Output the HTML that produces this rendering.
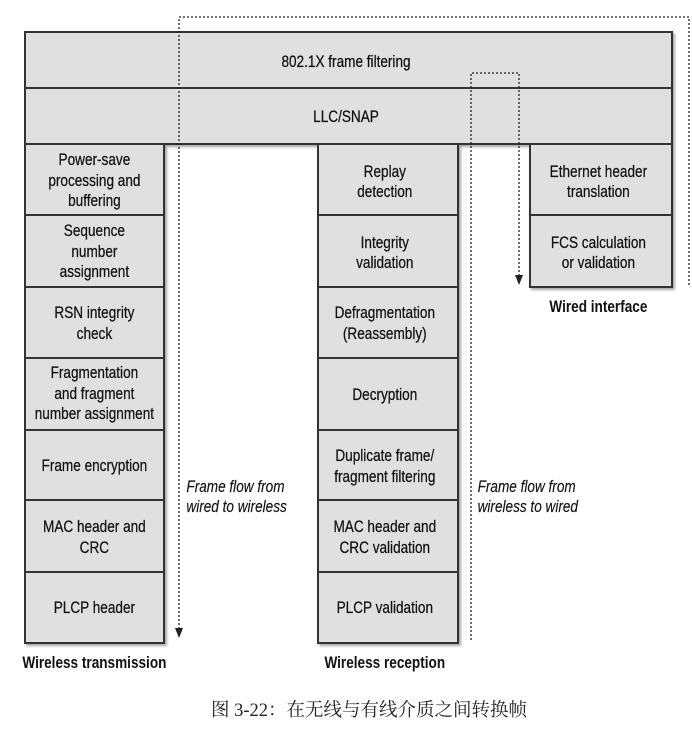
<!DOCTYPE html>
<html><head><meta charset="utf-8"><style>
html,body{margin:0;padding:0;background:#fff;}
svg{display:block;}
.t{font-family:"Liberation Sans",sans-serif;font-size:17px;fill:#111;stroke:#111;stroke-width:0.25;text-anchor:middle;}
.b{font-weight:bold;stroke-width:0;}
.i{font-style:italic;text-anchor:start;stroke-width:0.15;}
.c{font-family:"Liberation Serif","Noto Serif CJK SC",serif;font-size:18.5px;fill:#222;text-anchor:middle;}
</style></head><body>
<svg width="692" height="731" viewBox="0 0 692 731" xmlns="http://www.w3.org/2000/svg">
<defs><filter id="sh" x="-5%" y="-5%" width="115%" height="115%"><feDropShadow dx="2" dy="2" stdDeviation="1.2" flood-color="#000" flood-opacity="0.35"/></filter></defs>
<g fill="#e0e0e0" stroke="#333" stroke-width="2" filter="url(#sh)">
<path d="M25 32 H672 V144 H458 V643 H318 V144 H164 V643 H25 Z"/>
<rect x="530" y="144" width="142" height="143"/>
</g>
<g stroke="#333" stroke-width="2" fill="none">
<line x1="25" y1="88" x2="672" y2="88"/>
<line x1="25" y1="144" x2="164" y2="144"/><line x1="318" y1="144" x2="458" y2="144"/>
<path d="M25 215 H164 M25 287 H164 M25 358 H164 M25 430 H164 M25 500 H164 M25 572 H164"/>
<path d="M318 215 H458 M318 287 H458 M318 358 H458 M318 430 H458 M318 500 H458 M318 572 H458"/>
<line x1="530" y1="215" x2="672" y2="215"/>
</g>
<g stroke="#222" stroke-width="1.3" stroke-dasharray="2,2" fill="none">
<path d="M689 285 V17 H179 V630"/>
<path d="M471 640 V73 H519 V276"/>
</g>
<path d="M175 628 L183 628 L179 638 Z" fill="#222"/>
<path d="M515 275 L523 275 L519 285 Z" fill="#222"/>
<g class="t">
<g transform="translate(346,67) scale(0.8,1)"><text x="0" y="0">802.1X frame filtering</text></g>
<g transform="translate(346,122) scale(0.8,1)"><text x="0" y="0">LLC/SNAP</text></g>
<g transform="scale(0.8,1)">
<text x="118" y="165">Power-save</text><text x="118" y="186">processing and</text><text x="118" y="206">buffering</text>
<text x="118" y="236">Sequence</text><text x="118" y="257">number</text><text x="118" y="277">assignment</text>
<text x="118" y="318">RSN integrity</text><text x="118" y="339">check</text>
<text x="118" y="378">Fragmentation</text><text x="118" y="399">and fragment</text><text x="118" y="419">number assignment</text>
<text x="118" y="471">Frame encryption</text>
<text x="118" y="532">MAC header and</text><text x="118" y="553">CRC</text>
<text x="118" y="613">PLCP header</text>
<text x="481" y="177">Replay</text><text x="481" y="197">detection</text>
<text x="481" y="248">Integrity</text><text x="481" y="268">validation</text>
<text x="481" y="318">Defragmentation</text><text x="481" y="339">(Reassembly)</text>
<text x="481" y="400">Decryption</text>
<text x="481" y="461">Duplicate frame/</text><text x="481" y="482">fragment filtering</text>
<text x="481" y="532">MAC header and</text><text x="481" y="553">CRC validation</text>
<text x="481" y="613">PLCP validation</text>
<text x="748" y="177">Ethernet header</text><text x="748" y="197">translation</text>
<text x="748" y="248">FCS calculation</text><text x="748" y="268">or validation</text>
<text class="b" x="748" y="312">Wired interface</text>
<text class="b" x="118" y="668">Wireless transmission</text>
<text class="b" x="481" y="668">Wireless reception</text>
<text class="i" x="233" y="492">Frame flow from</text><text class="i" x="233" y="512">wired to wireless</text>
<text class="i" x="597" y="492">Frame flow from</text><text class="i" x="597" y="512">wireless to wired</text>
</g>
</g>
<text class="c" x="369" y="716">图 3-22：在无线与有线介质之间转换帧</text>
</svg>
</body></html>
